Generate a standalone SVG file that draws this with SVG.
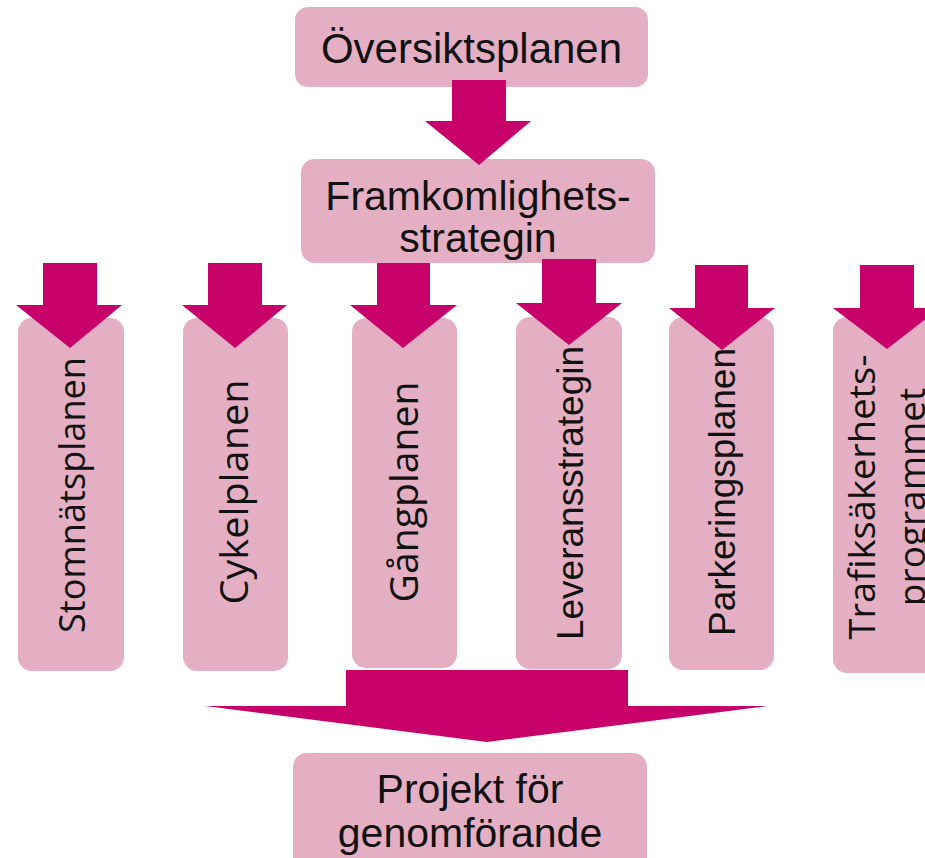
<svg xmlns="http://www.w3.org/2000/svg" width="925" height="858" viewBox="0 0 925 858">
  <style>
    .box { fill: #e4afc3; }
    .arrow { fill: #c8006a; }
    .lbl { font-family: "Liberation Sans", Arial, sans-serif; fill: #111; text-anchor: middle; }
    .lblc { font-family: "Open Sans", "Noto Sans", sans-serif; fill: #111; text-anchor: middle; }
  </style>
  <rect width="925" height="858" fill="#ffffff"/>
  <g id="node-oversiktsplanen">
    <rect class="box" x="295" y="7" width="353" height="80" rx="13"/>
    <text class="lbl" x="471.5" y="63" font-size="42">Översiktsplanen</text>
  </g>
  <g id="node-framkomlighetsstrategin">
    <rect class="box" x="301" y="159" width="354" height="104" rx="14"/>
    <text class="lbl" x="478" y="210" font-size="41">Framkomlighets-</text>
    <text class="lbl" x="478" y="252" font-size="41">strategin</text>
  </g>
  <g id="node-stomnatsplanen">
    <rect class="box" x="18" y="318" width="106" height="353" rx="14"/>
    <text class="lblc" transform="translate(85,495) rotate(-90)" font-size="36" textLength="276" lengthAdjust="spacingAndGlyphs">Stomnätsplanen</text>
  </g>
  <g id="node-cykelplanen">
    <rect class="box" x="183" y="318" width="105" height="353" rx="14"/>
    <text class="lblc" transform="translate(248,492) rotate(-90)" font-size="38" textLength="225" lengthAdjust="spacingAndGlyphs">Cykelplanen</text>
  </g>
  <g id="node-gangplanen">
    <rect class="box" x="352" y="318" width="105" height="350" rx="14"/>
    <text class="lblc" transform="translate(418,492) rotate(-90)" font-size="38" textLength="221" lengthAdjust="spacingAndGlyphs">Gångplanen</text>
  </g>
  <g id="node-leveransstrategin">
    <rect class="box" x="516" y="317" width="106" height="352" rx="14"/>
    <text class="lbl" transform="translate(583,493) rotate(-90)" font-size="37">Leveransstrategin</text>
  </g>
  <g id="node-parkeringsplanen">
    <rect class="box" x="669" y="317" width="105" height="353" rx="14"/>
    <text class="lbl" transform="translate(735,492) rotate(-90)" font-size="37">Parkeringsplanen</text>
  </g>
  <g id="node-trafiksakerhetsprogrammet">
    <rect class="box" x="833" y="317" width="106" height="356" rx="14"/>
    <text class="lblc" transform="translate(875,497) rotate(-90)" font-size="37" textLength="285" lengthAdjust="spacingAndGlyphs">Trafiksäkerhets-</text>
    <text class="lblc" transform="translate(925,497) rotate(-90)" font-size="37">programmet</text>
  </g>
  <g id="node-projekt">
    <rect class="box" x="293" y="753" width="354" height="120" rx="14"/>
    <text class="lbl" x="470" y="803" font-size="41">Projekt för</text>
    <text class="lbl" x="470" y="847" font-size="41">genomförande</text>
  </g>
  <g id="connectors">
    <polygon class="arrow" points="452,80 506,80 506,121 531,121 479,165 425,121 452,121"/>
    <polygon class="arrow" points="43,263 97,263 97,305 122,305 70,348 16,305 43,305"/>
    <polygon class="arrow" points="208,263 262,263 262,305 287,305 235,348 182,305 208,305"/>
    <polygon class="arrow" points="377,263 430,263 430,305 457,305 403,348 350,305 377,305"/>
    <polygon class="arrow" points="542,259 596,259 596,303 622,303 569,345 516,303 542,303"/>
    <polygon class="arrow" points="695,265 748,265 748,308 775,308 722,350 669,308 695,308"/>
    <polygon class="arrow" points="860,265 914,265 914,308 940,308 887,349 833,308 860,308"/>
    <polygon class="arrow" points="346,670 628,670 628,706 768,706 487,742 205,706 346,706"/>
  </g>
</svg>
